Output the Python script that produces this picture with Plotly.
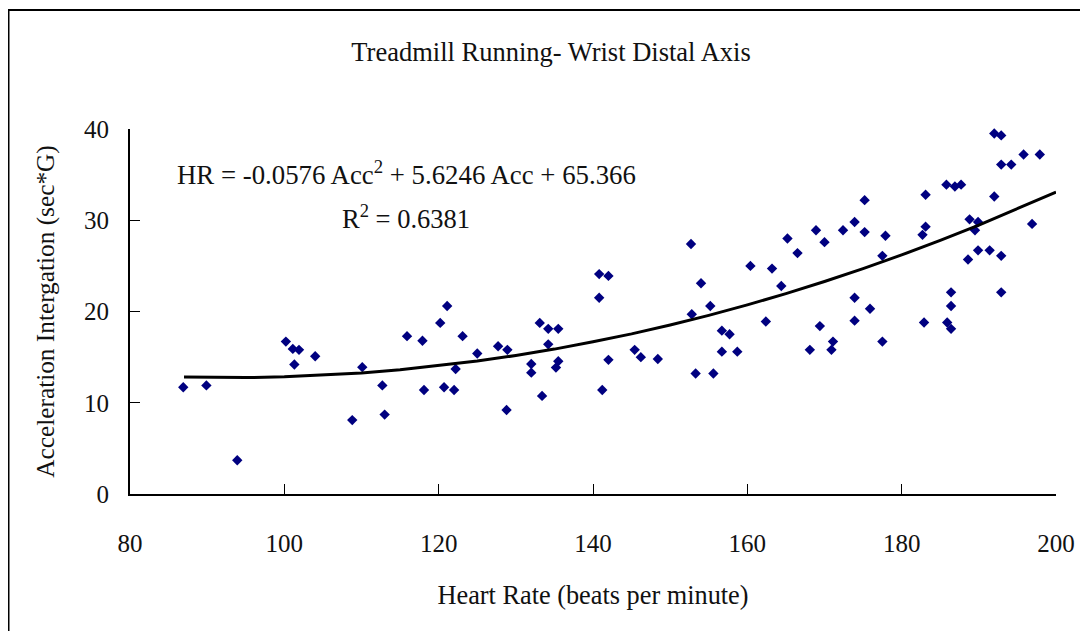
import plotly.graph_objects as go

# Heart rate (x) and acceleration integration (y)
heart_rate = [
    86.9, 89.9, 93.9, 100.2, 101.1, 101.9, 101.3, 104.0, 108.8, 110.1,
    112.7, 113.0, 115.9, 117.9, 118.1, 120.2, 121.1, 120.7, 122.0, 122.2,
    123.1, 125.0, 127.7, 128.9, 128.8, 132.0, 132.0, 133.1, 133.4, 134.2,
    134.2, 135.5, 135.5, 135.2, 140.8, 142.0, 140.8, 142.0, 141.2, 145.4,
    146.2, 148.4, 152.7, 154.0, 152.8, 155.2, 153.3, 155.6, 156.7, 157.7,
    156.7, 158.7, 160.4, 162.4, 163.2, 164.4, 165.2, 166.5, 168.1, 168.9,
    169.4, 170.0, 171.1, 170.9, 172.4, 173.9, 173.9, 173.9, 175.2, 175.2,
    175.9, 177.5, 177.9, 177.5, 182.9, 182.7, 183.1, 183.1, 185.8, 186.9,
    187.7, 185.9, 186.4, 186.4, 186.4, 188.6, 188.8, 189.5, 189.9, 189.9,
    191.4, 192.0, 192.0, 192.9, 192.9, 194.2, 192.9, 192.9, 195.8, 197.9,
    196.9,
]
accel_integration = [
    11.7, 11.9, 3.7, 16.7, 15.9, 15.8, 14.2, 15.1, 8.1, 13.9,
    11.9, 8.7, 17.3, 16.8, 11.4, 18.75, 20.6, 11.7, 11.4, 13.7,
    17.3, 15.4, 16.2, 15.8, 9.2, 14.25, 13.3, 18.75, 10.75, 18.1,
    16.4, 18.1, 14.55, 13.85, 24.1, 23.9, 21.5, 14.7, 11.4, 15.8,
    15.0, 14.8, 27.4, 23.1, 19.7, 20.6, 13.2, 13.2, 17.9, 17.5,
    15.6, 15.6, 25.0, 18.9, 24.7, 22.8, 28.0, 26.4, 15.8, 28.9,
    18.4, 27.6, 16.7, 15.8, 28.9, 29.8, 21.5, 19.0, 32.2, 28.7,
    20.3, 26.1, 28.3, 16.7, 18.8, 28.4, 29.3, 32.8, 33.9, 33.7,
    33.9, 18.8, 18.1, 20.6, 22.1, 25.7, 30.1, 28.9, 29.8, 26.7,
    26.7, 32.6, 39.5, 39.3, 36.1, 36.1, 26.1, 22.1, 37.2, 37.2,
    29.6,
]

# Polynomial trend line values
trend_x = [87, 90, 95, 100, 105, 110, 115, 120, 125, 130, 135, 140, 145,
           150, 155, 160, 165, 170, 175, 180, 185, 190, 195, 200]
trend_y = [12.81, 12.77, 12.76, 12.84, 13.01, 13.26, 13.61, 14.05, 14.57,
           15.18, 15.88, 16.68, 17.55, 18.52, 19.58, 20.73, 21.96, 23.29,
           24.70, 26.20, 27.79, 29.47, 31.24, 33.09]

x_ticks = [80, 100, 120, 140, 160, 180, 200]
y_ticks = [0, 10, 20, 30, 40]

FONT = "Liberation Serif"

# page offset: the browser puts the figure 8px in from the top-left corner
OFF = 8
W, H = 1088 - OFF, 631 - OFF
PL, PR, PT, PB = 130, 1056, 129, 494          # plot area in page pixels
pw, ph = PR - PL, PB - PT


def px_x(p):
    return (p - PL) / pw


def px_y(p):
    return (PB - p) / ph


fig = go.Figure()
fig.add_trace(go.Scatter(
    x=heart_rate, y=accel_integration, mode="markers",
    marker=dict(symbol="diamond", size=8, color="#000080"),
    showlegend=False, cliponaxis=False,
))
fig.add_trace(go.Scatter(
    x=trend_x, y=trend_y, mode="lines",
    line=dict(color="black", width=3),
    showlegend=False,
))

fig.update_layout(
    width=W, height=H,
    paper_bgcolor="white", plot_bgcolor="white",
    margin=dict(l=PL - OFF, r=W - (PR - OFF), t=PT - OFF, b=H - (PB - OFF)),
    font=dict(family=FONT, color="#111111", size=25),
    title=dict(text="Treadmill Running- Wrist Distal Axis",
               x=(551 - OFF) / W, xanchor="center",
               y=1 - (52 - OFF) / H, yanchor="middle",
               font=dict(size=26.5, family=FONT)),
    xaxis=dict(
        range=[80, 200], tickmode="array", tickvals=x_ticks,
        ticks="inside", ticklen=10, tickcolor="black", tickwidth=1,
        showline=True, linecolor="black", linewidth=2, showgrid=False, zeroline=False,
        tickfont=dict(size=25, family=FONT), ticklabelstandoff=26,
        title=dict(text="Heart Rate (beats per minute)", standoff=30,
                   font=dict(size=26.3, family=FONT)),
    ),
    yaxis=dict(
        range=[0, 40], tickmode="array", tickvals=y_ticks,
        ticks="inside", ticklen=10, tickcolor="black", tickwidth=1,
        showline=True, linecolor="black", linewidth=2, showgrid=False, zeroline=False,
        tickfont=dict(size=25, family=FONT), ticklabelstandoff=14,
        title=dict(text="Acceleration Intergation (sec*G)", standoff=22,
                   font=dict(size=25.3, family=FONT)),
    ),
    shapes=[dict(type="rect", xref="paper", yref="paper",
                 x0=px_x(8.5), x1=px_x(1200), y0=px_y(700), y1=px_y(10),
                 line=dict(color="black", width=2), fillcolor="rgba(0,0,0,0)",
                 layer="below")],
    annotations=[
        dict(text="HR = -0.0576 Acc<sup>2</sup> + 5.6246 Acc + 65.366",
             x=px_x(175), y=px_y(173), xref="paper", yref="paper", showarrow=False,
             font=dict(size=26.8, family=FONT), xanchor="left", yanchor="middle"),
        dict(text="R<sup>2</sup> = 0.6381",
             x=px_x(340), y=px_y(217), xref="paper", yref="paper", showarrow=False,
             font=dict(size=26.5, family=FONT), xanchor="left", yanchor="middle"),
    ],
)

fig.write_html("out.html")
